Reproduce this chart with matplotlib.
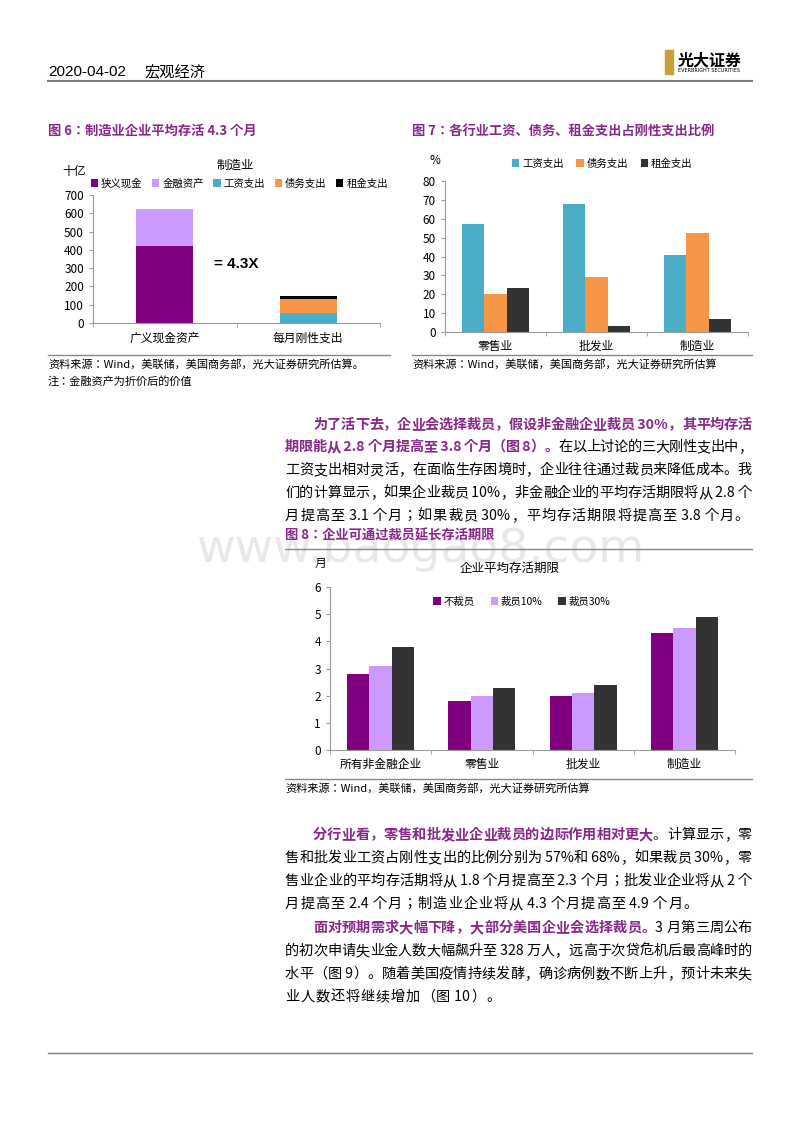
import matplotlib
matplotlib.use("Agg")
import matplotlib.pyplot as plt
from matplotlib import font_manager as fm
import numpy as np
import os
from matplotlib.patches import Rectangle

REG = '/usr/share/fonts/opentype/noto/NotoSansCJK-Regular.ttc'
BLD = '/usr/share/fonts/opentype/noto/NotoSansCJK-Bold.ttc'
fam = 'Noto Sans CJK SC'
for p in (REG, BLD):
    if os.path.exists(p):
        fm.fontManager.addfont(p)
if os.path.exists(REG):
    fam = fm.FontProperties(fname=REG).get_name()
plt.rcParams['font.family'] = [fam, 'DejaVu Sans']

W, H = 800, 1132
fig = plt.figure(figsize=(8, 11.32), dpi=100)

PURPLE_T = '#87288A'
C_CASH, C_FIN, C_WAGE, C_DEBT, C_RENT = '#800080', '#CC99FF', '#4BACC6', '#F79646', '#000000'
C_DARK = '#333333'

# ---- data ----
f6_cats = ['广义现金资产', '每月刚性支出']
f6_cash = [420, 0]
f6_fin = [205, 0]
f6_wage = [0, 55]
f6_debt = [0, 77]
f6_rent = [0, 13]

f7_cats = ['零售业', '批发业', '制造业']
f7_wage = [57, 68, 41]
f7_debt = [20, 29, 52.5]
f7_rent = [23.5, 3, 7]

f8_cats = ['所有非金融企业', '零售业', '批发业', '制造业']
f8_none = [2.8, 1.8, 2.0, 4.3]
f8_10 = [3.1, 2.0, 2.1, 4.5]
f8_30 = [3.8, 2.3, 2.4, 4.9]

def fx(x): return x / W
def fy(y): return 1 - y / H

def txt(x, y, s, bold=False, **kw):
    kw.setdefault('va', 'center')
    if bold:
        kw['weight'] = 'bold'
    return fig.text(fx(x), fy(y), s, **kw)

def hline(x0, x1, y, c='#888888', lw=1.0):
    fig.add_artist(plt.Line2D([fx(x0), fx(x1)], [fy(y), fy(y)], color=c, lw=lw, transform=fig.transFigure))

def axes_px(l, t, r, b):
    return fig.add_axes([fx(l), fy(b), fx(r) - fx(l), (b - t) / H])

def style(ax):
    for s in ['top', 'right']:
        ax.spines[s].set_visible(False)
    for s in ['left', 'bottom']:
        ax.spines[s].set_color('#999999')
    ax.tick_params(axis='both', colors='#999999', labelcolor='black', labelsize=8.5, length=3)

# watermark
txt(420, 550, 'www.baogao8.com', fontsize=34, color='#E8E8E8', ha='center', family='DejaVu Sans', zorder=0)

# header
txt(48, 72, '2020-04-02', fontsize=11, family='Liberation Sans')
txt(144, 72, '宏观经济', fontsize=11)
hline(48, 752, 81, c='#7F7F7F', lw=1.5)
fig.add_artist(Rectangle((fx(665), fy(74)), fx(8), 24 / H, color='#C9A13B', transform=fig.transFigure))
txt(678, 60, '光大证券', fontsize=11.5, bold=True)
txt(678, 71, 'EVERBRIGHT SECURITIES', fontsize=3.5, family='DejaVu Sans')

# figure titles
txt(48, 131, '图 6：制造业企业平均存活 4.3 个月', fontsize=9.5, bold=True, color=PURPLE_T)
txt(412, 131, '图 7：各行业工资、债务、租金支出占刚性支出比例', fontsize=9.5, bold=True, color=PURPLE_T)

# ---- Fig 6 ----
ax6 = axes_px(93, 195, 380, 323)
x = np.arange(2)
w = 0.4
ax6.bar(x, f6_cash, w, color=C_CASH, label='狭义现金')
ax6.bar(x, f6_fin, w, bottom=f6_cash, color=C_FIN, label='金融资产')
b1 = np.array(f6_cash) + np.array(f6_fin)
ax6.bar(x, f6_wage, w, bottom=b1, color=C_WAGE, label='工资支出')
b2 = b1 + np.array(f6_wage)
ax6.bar(x, f6_debt, w, bottom=b2, color=C_DEBT, label='债务支出')
b3 = b2 + np.array(f6_debt)
ax6.bar(x, f6_rent, w, bottom=b3, color=C_RENT, label='租金支出')
ax6.set_xlim(-0.5, 1.5)
ax6.set_ylim(0, 700)
ax6.set_yticks(range(0, 701, 100))
ax6.set_xticks(x)
ax6.set_xticklabels(f6_cats)
ax6.set_xticks([-0.5, 0.5, 1.5], minor=True)
style(ax6)
ax6.tick_params(axis='x', which='major', length=0, pad=6)
ax6.tick_params(axis='x', which='minor', length=3, color='#999999')
ax6.text(0.5, 320, '= 4.3X', fontsize=11, weight='bold', ha='center', va='center', family='Liberation Sans')
ax6.legend(loc='lower left', bbox_to_anchor=(-0.03, 1.0), ncol=5, frameon=False, fontsize=7.5,
           handlelength=0.7, handleheight=0.7, handletextpad=0.3, columnspacing=0.9, borderaxespad=0.2)
txt(235, 165, '制造业', fontsize=9, ha='center')
txt(62, 171, '十亿', fontsize=8.5)
hline(48, 390, 355)
txt(48, 364, '资料来源：Wind，美联储，美国商务部，光大证券研究所估算。', fontsize=8)
txt(48, 381, '注：金融资产为折价后的价值', fontsize=8)

# ---- Fig 7 ----
ax7 = axes_px(445, 181, 748, 332)
x = np.arange(3)
w = 0.22
ax7.bar(x - w, f7_wage, w, color=C_WAGE, label='工资支出')
ax7.bar(x, f7_debt, w, color=C_DEBT, label='债务支出')
ax7.bar(x + w, f7_rent, w, color=C_DARK, label='租金支出')
ax7.set_xlim(-0.5, 2.5)
ax7.set_ylim(0, 80)
ax7.set_yticks(range(0, 81, 10))
ax7.set_xticks(x)
ax7.set_xticklabels(f7_cats)
ax7.set_xticks([-0.5, 0.5, 1.5, 2.5], minor=True)
style(ax7)
ax7.tick_params(axis='x', which='major', length=0, pad=6)
ax7.tick_params(axis='x', which='minor', length=3, color='#999999')
ax7.legend(loc='lower left', bbox_to_anchor=(0.2, 1.04), ncol=3, frameon=False, fontsize=7.5,
           handlelength=0.7, handleheight=0.7, handletextpad=0.3, columnspacing=1.2, borderaxespad=0.2)
txt(430, 160, '%', fontsize=8.5)
hline(412, 752, 355)
txt(412, 364, '资料来源：Wind，美联储，美国商务部，光大证券研究所估算', fontsize=8)

# ---- justified paragraphs ----
renderer = fig.canvas.get_renderer()
FS = 10.2

def tokenize(pieces):
    toks = []
    for s, bold in pieces:
        cur = ''
        for ch in s:
            if ord(ch) < 128:
                cur += ch
            else:
                if cur:
                    toks.append((cur, bold)); cur = ''
                toks.append((ch, bold))
        if cur:
            toks.append((cur, bold))
    return toks

def jline(y, pieces, x0=285, x1=752, justify=True):
    toks = tokenize(pieces)
    arts, widths = [], []
    for s, bold in toks:
        col = PURPLE_T if bold else 'black'
        t = fig.text(0, fy(y), s, fontsize=FS, va='center', color=col,
                     weight='bold' if bold else 'normal')
        bb = t.get_window_extent(renderer)
        arts.append(t)
        widths.append(bb.width)
    total = sum(widths)
    gap = (x1 - x0 - total) / max(len(toks) - 1, 1) if justify else 1.0
    cx = x0
    for t, wd in zip(arts, widths):
        t.set_x(fx(cx))
        cx += wd + gap

B = True; N = False
jline(425, [('为了活下去，企业会选择裁员，假设非金融企业裁员 30%，其平均存活', B)], x0=313)
jline(447, [('期限能从 2.8 个月提高至 3.8 个月（图 8）。', B), ('在以上讨论的三大刚性支出中，', N)])
jline(470, [('工资支出相对灵活，在面临生存困境时，企业往往通过裁员来降低成本。我', N)])
jline(493, [('们的计算显示，如果企业裁员 10%，非金融企业的平均存活期限将从 2.8 个', N)])
jline(516, [('月提高至 3.1 个月；如果裁员 30%，平均存活期限将提高至 3.8 个月。', N)], justify=False)

txt(285, 536, '图 8：企业可通过裁员延长存活期限', fontsize=9.5, bold=True, color=PURPLE_T)
hline(285, 752, 549)

# ---- Fig 8 ----
ax8 = axes_px(330, 587, 735, 750)
x = np.arange(4)
w = 0.22
ax8.bar(x - w, f8_none, w, color=C_CASH, label='不裁员')
ax8.bar(x, f8_10, w, color=C_FIN, label='裁员10%')
ax8.bar(x + w, f8_30, w, color=C_DARK, label='裁员30%')
ax8.set_xlim(-0.5, 3.5)
ax8.set_ylim(0, 6)
ax8.set_yticks(range(0, 7))
ax8.set_xticks(x)
ax8.set_xticklabels(f8_cats)
ax8.set_xticks([-0.5, 0.5, 1.5, 2.5, 3.5], minor=True)
style(ax8)
ax8.tick_params(axis='x', which='major', length=0, pad=6)
ax8.tick_params(axis='x', which='minor', length=3, color='#999999')
ax8.legend(loc='upper left', bbox_to_anchor=(0.24, 0.98), ncol=3, frameon=False, fontsize=7.5,
           handlelength=0.7, handleheight=0.7, handletextpad=0.3, columnspacing=1.5, borderaxespad=0.2)
txt(315, 563, '月', fontsize=8.5)
txt(510, 568, '企业平均存活期限', fontsize=9, ha='center')
hline(285, 752, 779)
txt(285, 788, '资料来源：Wind，美联储，美国商务部，光大证券研究所估算', fontsize=8)

jline(835, [('分行业看，零售和批发业企业裁员的边际作用相对更大。', B), ('计算显示，零', N)], x0=313)
jline(858, [('售和批发业工资占刚性支出的比例分别为 57%和 68%，如果裁员 30%，零', N)])
jline(881, [('售业企业的平均存活期将从 1.8 个月提高至 2.3 个月；批发业企业将从 2 个', N)])
jline(904, [('月提高至 2.4 个月；制造业企业将从 4.3 个月提高至 4.9 个月。', N)], justify=False)

jline(928, [('面对预期需求大幅下降，大部分美国企业会选择裁员。', B), ('3 月第三周公布', N)], x0=313)
jline(951, [('的初次申请失业金人数大幅飙升至 328 万人，远高于次贷危机后最高峰时的', N)])
jline(974, [('水平（图 9）。随着美国疫情持续发酵，确诊病例数不断上升，预计未来失', N)])
jline(997, [('业人数还将继续增加（图 10）。', N)], justify=False)

hline(48, 752, 1053, c='#7F7F7F', lw=1.0)

fig.savefig('out.png', dpi=100)
